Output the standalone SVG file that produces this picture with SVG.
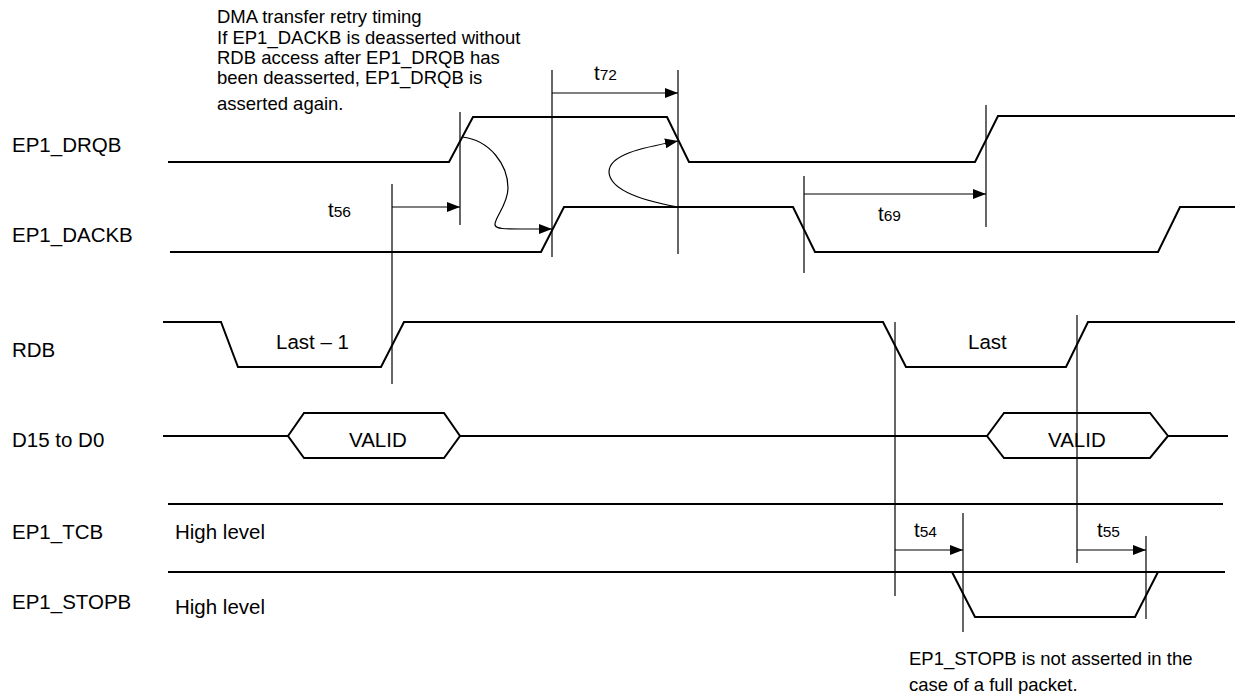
<svg xmlns="http://www.w3.org/2000/svg" width="1235" height="694" viewBox="0 0 1235 694">
<defs>
<marker id="ah" markerUnits="userSpaceOnUse" markerWidth="14" markerHeight="10" refX="13" refY="5" orient="auto">
<path d="M0,0 L13,5 L0,10 Z" fill="#000"/>
</marker>
<style>
.w{fill:none;stroke:#000;stroke-width:2;stroke-linejoin:miter}
.v{fill:none;stroke:#000;stroke-width:1.2}
.a{fill:none;stroke:#000;stroke-width:1.2;marker-end:url(#ah)}
.lb{font-family:"Liberation Sans",Arial,sans-serif;font-size:20.5px;fill:#000}
.an{font-family:"Liberation Sans",Arial,sans-serif;font-size:18.5px;fill:#000}
.sub{font-size:15.5px}
</style>
</defs>
<rect width="1235" height="694" fill="#fff"/>

<g id="annotation-top">
<text class="an" x="217" y="23">DMA transfer retry timing</text>
<text class="an" x="217" y="44">If EP1_DACKB is deasserted without</text>
<text class="an" x="217" y="64">RDB access after EP1_DRQB has</text>
<text class="an" x="217" y="84">been deasserted, EP1_DRQB is</text>
<text class="an" x="217" y="110">asserted again.</text>
</g>

<g id="sig-drqb">
<text class="lb" x="12" y="152">EP1_DRQB</text>
<path class="w" d="M168,162 H449 L473,117 H667 L689,162 H975 L998,116 H1235"/>
</g>

<g id="sig-dackb">
<text class="lb" x="12" y="242">EP1_DACKB</text>
<path class="w" d="M170,252 H541 L564,207 H793 L815,252 H1158 L1180,207 H1235"/>
</g>

<g id="sig-rdb">
<text class="lb" x="12" y="357">RDB</text>
<path class="w" d="M163,322 H221 L238,367 H381 L404,322 H883 L906,367 H1066 L1088,322 H1235"/>
<text class="lb" x="276" y="349">Last – 1</text>
<text class="lb" x="968" y="349">Last</text>
</g>

<g id="sig-data">
<text class="lb" x="12" y="447">D15 to D0</text>
<path class="w" d="M163,436 H288 M460,436 H987 M1168,436 H1228"/>
<path class="w" d="M288,436 L304,413 H444 L460,436 L444,458 H304 Z"/>
<path class="w" d="M987,436 L1004,413 H1150 L1168,436 L1150,458 H1004 Z"/>
<text class="lb" x="349" y="447">VALID</text>
<text class="lb" x="1048" y="447">VALID</text>
</g>

<g id="sig-tcb">
<text class="lb" x="12" y="539">EP1_TCB</text>
<path class="w" d="M168,504 H1223"/>
<text class="lb" x="175" y="539">High level</text>
</g>

<g id="sig-stopb">
<text class="lb" x="12" y="609">EP1_STOPB</text>
<path class="w" d="M168,572 H1225"/>
<path class="w" d="M952,572 L975,617 H1135 L1158,572"/>
<text class="lb" x="175" y="614">High level</text>
</g>

<g id="annotation-bottom">
<text class="an" x="909" y="665">EP1_STOPB is not asserted in the</text>
<text class="an" x="909" y="691">case of a full packet.</text>
</g>

<g id="connectors">
<path class="v" d="M460,112 V225"/>
<path class="v" d="M392,184 V384"/>
<path class="v" d="M552,70 V257"/>
<path class="v" d="M678,70 V254"/>
<path class="v" d="M804,176 V273"/>
<path class="v" d="M986,105 V227"/>
<path class="v" d="M895,322 V596"/>
<path class="v" d="M1077,315 V563"/>
<path class="v" d="M963,513 V632"/>
<path class="v" d="M1146,536 V619"/>

<path class="a" d="M392,207 H460"/>
<path class="a" d="M552,93 H678"/>
<path class="a" d="M804,194 H986"/>
<path class="a" d="M895,550 H963"/>
<path class="a" d="M1077,550 H1146"/>

<path class="a" d="M462,137 C490,140 508,165 508,188 C508,205 494,218 495,225 C496,229 505,229 520,229 L552,229"/>
<path class="a" d="M678,207 C650,202 610,192 609,172 C609,155 640,148 678,141"/>

<text class="lb" x="328" y="217">t<tspan class="sub">56</tspan></text>
<text class="lb" x="594" y="80">t<tspan class="sub">72</tspan></text>
<text class="lb" x="878" y="221">t<tspan class="sub">69</tspan></text>
<text class="lb" x="914" y="537">t<tspan class="sub">54</tspan></text>
<text class="lb" x="1097" y="537">t<tspan class="sub">55</tspan></text>
</g>
</svg>
